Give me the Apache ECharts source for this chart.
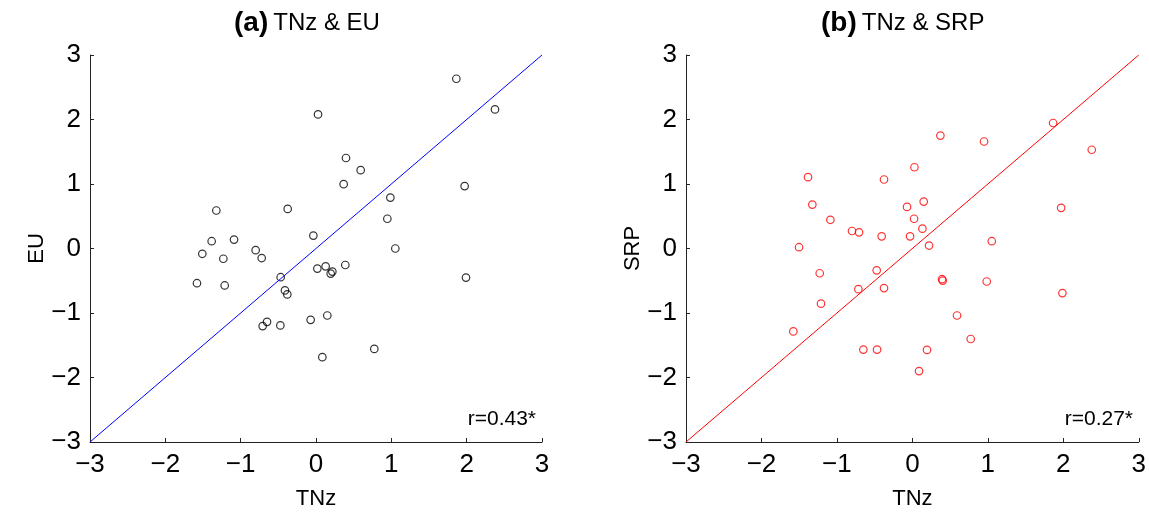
<!DOCTYPE html>
<html>
<head>
<meta charset="utf-8">
<script src="https://cdn.jsdelivr.net/npm/echarts@6/dist/echarts.min.js"></script>
<style>
html,body{margin:0;padding:0;background:#fff;}
#chart{width:1149px;height:515px;}
</style>
</head>
<body>
<div id="chart"></div>
<script>
// Panel (a): TNz vs EU
const tnzA = [1.863, 2.376, 0.027, 0.398, 0.593, 0.367, 1.973, 0.987, -1.323, -0.376, 0.947, -0.035, -1.385, -1.088, -1.509, -0.801, -1.230, -0.721, 1.053, 0.018, 0.128, 0.217, 0.195, 0.389, 1.991, -1.580, -1.212, -0.469, -0.412, -0.381, 0.150, -0.071, -0.650, -0.708, -0.473, 0.774, 0.084];
const eu   = [2.632, 2.156, 2.079, 1.403, 1.214, 0.998, 0.968, 0.789, 0.589, 0.614, 0.461, 0.200, 0.113, 0.138, -0.082, -0.026, -0.159, -0.148, 0.000, -0.312, -0.276, -0.358, -0.389, -0.256, -0.451, -0.538, -0.573, -0.445, -0.650, -0.712, -1.039, -1.106, -1.137, -1.203, -1.193, -1.557, -1.685];
// Panel (b): TNz vs SRP
const tnzB = [1.865, 0.371, 0.950, 2.377, 0.027, -1.383, -0.376, -1.326, 0.150, -0.071, -1.087, 0.022, 1.971, 0.133, -0.800, -0.707, -0.407, -0.031, 1.052, 0.221, -1.502, -0.473, 0.393, 0.402, 0.985, -1.228, -0.716, -0.376, 1.988, -1.211, 0.592, -1.578, 0.773, -0.650, -0.468, 0.194, 0.088];
const srp  = [1.946, 1.751, 1.659, 1.531, 1.260, 1.106, 1.070, 0.681, 0.727, 0.645, 0.445, 0.461, 0.630, 0.307, 0.271, 0.251, 0.189, 0.189, 0.113, 0.046, 0.020, -0.338, -0.476, -0.497, -0.512, -0.384, -0.630, -0.614, -0.691, -0.855, -1.039, -1.285, -1.403, -1.567, -1.567, -1.572, -1.900];
// 1:1 reference line
const refX = [-3, 3];
const refY = [-3, 3];
const tickLabels = [-3, -2, -1, 0, 1, 2, 3];
const titles = ['(a)', '(b)'];
const subtitles = ['TNz & EU', 'TNz & SRP'];
const rLabels = ['r=0.43*', 'r=0.27*'];

const pairs = (xs, ys) => xs.map((x, i) => [x, ys[i]]);
const fmt = v => String(v).replace('-', '\u2212');
const FONT = '"Liberation Sans", Arial, sans-serif';

function makeAxis(gridIndex, name, isY) {
  return {
    type: 'value', gridIndex, min: -3, max: 3, interval: 1,
    name, nameLocation: 'middle', nameGap: isY ? 40 : 46,
    nameTextStyle: {fontSize: 22, color: '#000', fontFamily: FONT},
    axisLine: {show: true, onZero: false, lineStyle: {color: '#222', width: 1}},
    axisTick: {show: true, inside: true, length: 4, lineStyle: {color: '#222'}},
    axisLabel: {fontSize: 26, color: '#000', fontFamily: FONT, margin: isY ? 9 : 10, formatter: fmt},
    splitLine: {show: false}
  };
}

const richT = {
  b: {fontSize: 28, fontWeight: 'bold', fontFamily: FONT, color: '#000'},
  n: {fontSize: 24, fontWeight: 'normal', fontFamily: FONT, color: '#000'}
};

const chart = echarts.init(document.getElementById('chart'));
chart.setOption({
  animation: false,
  backgroundColor: '#fff',
  title: [
    {text: '{b|' + titles[0] + '} {n|' + subtitles[0] + '}', left: 229, top: 4,
     textStyle: {fontWeight: 'normal', rich: richT}},
    {text: '{b|' + titles[1] + '} {n|' + subtitles[1] + '}', left: 816, top: 4,
     textStyle: {fontWeight: 'normal', rich: richT}},
    {text: rLabels[0], right: 1149 - 541, top: 404, textStyle: {fontSize: 21, fontWeight: 'normal', fontFamily: FONT, color: '#000'}},
    {text: rLabels[1], right: 1149 - 1138, top: 404, textStyle: {fontSize: 21, fontWeight: 'normal', fontFamily: FONT, color: '#000'}}
  ],
  grid: [
    {left: 90, top: 55, width: 452, height: 390},
    {left: 686, top: 55, width: 453, height: 390}
  ],
  xAxis: [makeAxis(0, 'TNz', false), makeAxis(1, 'TNz', false)],
  yAxis: [makeAxis(0, 'EU', true), makeAxis(1, 'SRP', true)],
  series: [
    {type: 'line', xAxisIndex: 0, yAxisIndex: 0, data: pairs(refX, refY), symbol: 'none',
     lineStyle: {color: '#0000ff', width: 1}, silent: true},
    {type: 'scatter', xAxisIndex: 0, yAxisIndex: 0, data: pairs(tnzA, eu), symbol: 'circle', symbolSize: 7.5,
     itemStyle: {color: 'rgba(0,0,0,0)', borderColor: '#000', borderWidth: 1.2}},
    {type: 'line', xAxisIndex: 1, yAxisIndex: 1, data: pairs(refX, refY), symbol: 'none',
     lineStyle: {color: '#ff0000', width: 1}, silent: true},
    {type: 'scatter', xAxisIndex: 1, yAxisIndex: 1, data: pairs(tnzB, srp), symbol: 'circle', symbolSize: 7.5,
     itemStyle: {color: 'rgba(0,0,0,0)', borderColor: '#ff0000', borderWidth: 1.2}}
  ]
});
</script>
</body>
</html>
